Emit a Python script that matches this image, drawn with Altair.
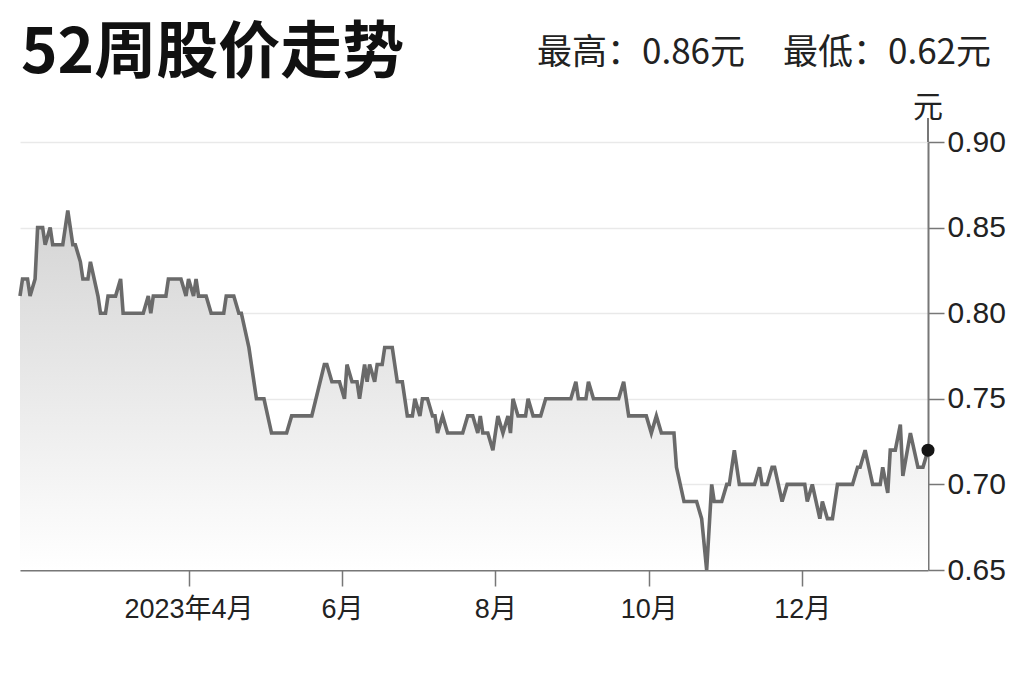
import altair as alt
import pandas as pd

# ---- data ----
start_date = "2023-01-24"
days = [0, 1, 3, 4, 6, 7, 9, 10, 12, 13,
        17, 19, 21, 22, 24, 25, 27, 28, 31, 32,
        34, 35, 38, 40, 41, 49, 51, 52, 53, 58,
        59, 64, 66, 67, 69, 70, 71, 74, 76, 81,
        82, 85, 87, 88, 91, 94, 97, 100, 106, 108,
        116, 121, 122, 124, 127, 129, 130, 132, 134, 135,
        137, 138, 139, 141, 142, 144, 145, 148, 150, 152,
        154, 156, 157, 159, 160, 162, 164, 165, 166, 168,
        170, 176, 178, 180, 182, 183, 184, 186, 188, 189,
        190, 192, 194, 195, 196, 198, 201, 202, 204, 207,
        209, 219, 221, 222, 225, 226, 228, 238, 240, 242,
        249, 251, 253, 255, 260, 261, 264, 269, 271, 273,
        275, 276, 279, 281, 282, 284, 286, 292, 294, 295,
        297, 299, 300, 303, 305, 312, 313, 315, 318, 319,
        321, 323, 325, 331, 333, 334, 336, 339, 342, 343,
        345, 346, 348, 350, 351, 354, 357, 359, 360, 361]
prices = [0.81, 0.82, 0.82, 0.81, 0.82, 0.85, 0.85, 0.84, 0.85, 0.84,
          0.84, 0.86, 0.84, 0.84, 0.83, 0.82, 0.82, 0.83, 0.81, 0.80,
          0.80, 0.81, 0.81, 0.82, 0.80, 0.80, 0.81, 0.80, 0.81, 0.81,
          0.82, 0.82, 0.81, 0.82, 0.81, 0.82, 0.81, 0.81, 0.80, 0.80,
          0.81, 0.81, 0.80, 0.80, 0.78, 0.75, 0.75, 0.73, 0.73, 0.74,
          0.74, 0.77, 0.77, 0.76, 0.76, 0.75, 0.77, 0.76, 0.76, 0.75,
          0.77, 0.76, 0.77, 0.76, 0.77, 0.77, 0.78, 0.78, 0.76, 0.76,
          0.74, 0.74, 0.75, 0.74, 0.75, 0.75, 0.74, 0.74, 0.73, 0.74,
          0.73, 0.73, 0.74, 0.74, 0.73, 0.74, 0.73, 0.73, 0.72, 0.73,
          0.74, 0.73, 0.74, 0.73, 0.75, 0.74, 0.74, 0.75, 0.74, 0.74,
          0.75, 0.75, 0.76, 0.75, 0.75, 0.76, 0.75, 0.75, 0.76, 0.74,
          0.74, 0.73, 0.74, 0.73, 0.73, 0.71, 0.69, 0.69, 0.68, 0.65,
          0.70, 0.69, 0.69, 0.70, 0.70, 0.72, 0.70, 0.70, 0.71, 0.70,
          0.70, 0.71, 0.71, 0.69, 0.70, 0.70, 0.69, 0.70, 0.68, 0.69,
          0.68, 0.68, 0.70, 0.70, 0.71, 0.71, 0.72, 0.70, 0.70, 0.71,
          0.695, 0.72, 0.72, 0.735, 0.705, 0.73, 0.71, 0.71, 0.715, 0.72]

tick_months = [(2023, 4), (2023, 6), (2023, 8), (2023, 10), (2023, 12)]
tick_labels = ["2023年4月", "6月", "8月", "10月", "12月"]
y_ticks = [0.65, 0.70, 0.75, 0.80, 0.85, 0.90]
y_domain = [0.65, 0.90]
title_text = "52周股价走势"
high_text = "最高：0.86元"
low_text = "最低：0.62元"
unit_text = "元"

# ---- table ----
df = pd.DataFrame({
    "date": pd.Timestamp(start_date) + pd.to_timedelta(days, unit="D"),
    "price": prices,
})
df["date"] = df["date"].dt.strftime("%Y-%m-%dT%H:%M:%S")
last = df.tail(1)

d0 = pd.Timestamp(start_date)
d1 = d0 + pd.Timedelta(days=days[-1])
x_domain = [alt.DateTime(year=d0.year, month=d0.month, date=d0.day),
            alt.DateTime(year=d1.year, month=d1.month, date=d1.day)]

label_expr = "''"
for (yy, mm), lab in reversed(list(zip(tick_months, tick_labels))):
    label_expr = (f"(year(datum.value)=={yy} && month(datum.value)=={mm - 1}) "
                  f"? '{lab}' : {label_expr}")

W, H = 908, 428
CJK = "Noto Sans CJK SC"
NUM = "Liberation Sans, Noto Sans CJK SC"
AX = "#777777"

x_enc = alt.X(
    "date:T",
    scale=alt.Scale(domain=x_domain, nice=False),
    axis=alt.Axis(
        values=[alt.DateTime(year=yy, month=mm, date=1) for yy, mm in tick_months],
        labelExpr=label_expr, title=None, grid=False,
        domainColor=AX, domainWidth=2, tickColor=AX, tickWidth=1.5, tickSize=16,
        labelFont=NUM, labelFontSize=27, labelColor="#222222", labelPadding=10,
    ),
)
y_enc = alt.Y(
    "price:Q",
    scale=alt.Scale(domain=y_domain, zero=False, nice=False),
    axis=alt.Axis(
        orient="right", values=y_ticks, format=".2f", title=None,
        grid=True, gridColor="#e9e9e9", gridWidth=1.5,
        domainColor=AX, domainWidth=2, tickColor=AX, tickWidth=1.5, tickSize=16,
        labelFont=NUM, labelFontSize=30, labelColor="#222222", labelPadding=3,
    ),
)

base = alt.Chart(df)

area = base.mark_area(
    color=alt.Gradient(
        gradient="linear",
        stops=[alt.GradientStop(color="#d4d4d4", offset=0),
               alt.GradientStop(color="#ffffff", offset=1)],
        x1=0, x2=0, y1=0, y2=1,
    )
).encode(x=x_enc, y=y_enc, y2=alt.datum(y_domain[0]))

line = base.mark_line(color="#6a6a6a", strokeWidth=3.6).encode(
    x="date:T", y="price:Q")

dot = alt.Chart(last).mark_circle(color="#151515", opacity=1, size=170).encode(
    x="date:T", y="price:Q")

axis_ext = alt.Chart(pd.DataFrame({"a": [0]})).mark_rule(
    color=AX, strokeWidth=2).encode(
    x=alt.value(W), y=alt.value(-24), y2=alt.value(0))

title = alt.Chart(pd.DataFrame({"t": [title_text]})).mark_text(
    align="left", baseline="middle", font=CJK, fontSize=62, fontWeight="bold",
    color="#111111").encode(text="t:N", x=alt.value(1), y=alt.value(-88))

high = alt.Chart(pd.DataFrame({"t": [high_text]})).mark_text(
    align="left", baseline="middle", font=CJK, fontSize=35,
    color="#222222").encode(text="t:N", x=alt.value(517), y=alt.value(-89))

low = alt.Chart(pd.DataFrame({"t": [low_text]})).mark_text(
    align="left", baseline="middle", font=CJK, fontSize=35,
    color="#222222").encode(text="t:N", x=alt.value(763), y=alt.value(-89))

unit = alt.Chart(pd.DataFrame({"t": [unit_text]})).mark_text(
    align="center", baseline="middle", font=CJK, fontSize=30,
    color="#222222").encode(text="t:N", x=alt.value(W), y=alt.value(-34))

chart = alt.layer(area, line, dot, axis_ext, title, high, low, unit).properties(
    width=W, height=H,
    padding={"left": 12, "top": 134, "right": 88, "bottom": 100},
    autosize=alt.AutoSizeParams(type="none"),
    background="white",
).configure_view(stroke=None)

chart.save("out.html", embed_options={"renderer": "svg", "actions": False})
